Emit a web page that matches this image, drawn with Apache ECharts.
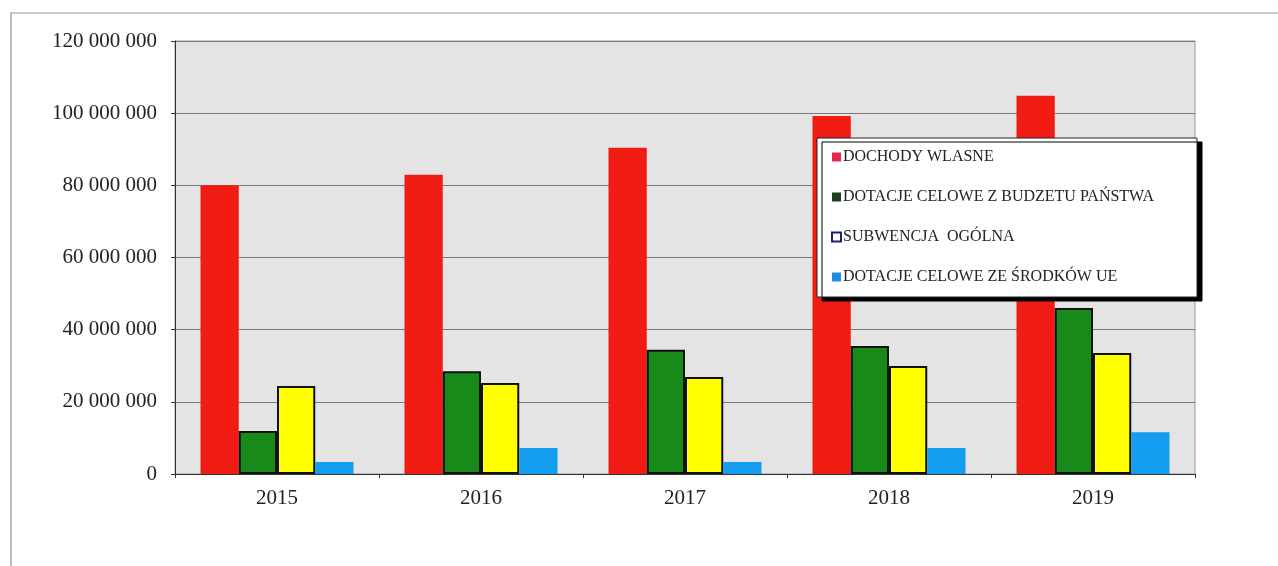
<!DOCTYPE html>
<html>
<head>
<meta charset="utf-8">
<script src="https://cdn.jsdelivr.net/npm/echarts@6/dist/echarts.min.js"></script>
<style>
  html, body { margin: 0; padding: 0; background: #fff; }
  #chart { width: 1278px; height: 566px; }
  .frame { position: absolute; left: 10px; top: 12px; width: 1268px; height: 554px;
           border-left: 2px solid #bbb; border-top: 2px solid #ccc; box-sizing: border-box; pointer-events: none; }
</style>
</head>
<body>
<div id="chart"></div>
<div class="frame"></div>
<script>
// dane
const years = ['2015', '2016', '2017', '2018', '2019']
const seriesNames = [
    'DOCHODY WLASNE',
    'DOTACJE CELOWE Z BUDZETU PAŃSTWA',
    'SUBWENCJA  OGÓLNA',
    'DOTACJE CELOWE ZE ŚRODKÓW UE'
]
const dochodyWlasne = [80000000, 82900000, 90400000, 99200000, 104800000]
const dotacjeBudzet = [11900000, 28500000, 34400000, 35500000, 46000000]
const subwencja = [24400000, 25200000, 26900000, 29900000, 33500000]
const dotacjeUE = [3300000, 7200000, 3300000, 7200000, 11600000]
const yTicks = [0, 20000000, 40000000, 60000000, 80000000, 100000000, 120000000]

const colors = ['#f01b12', '#178a1a', '#ffff00', '#139cf0']
const serif = '"Liberation Serif", "DejaVu Serif", serif'

function fmt(v) {
    return String(v).replace(/\B(?=(\d{3})+(?!\d))/g, ' ')
}

const chart = echarts.init(document.getElementById('chart'))

const option = {
    animation: false,
    grid: {
        left: 175, right: 83, top: 41, bottom: 92,
        show: true,
        backgroundColor: '#e4e4e4',
        borderColor: '#9a9a9a',
        borderWidth: 1
    },
    legend: {
        orient: 'vertical',
        left: 817,
        top: 138,
        padding: [11, 43, 12, 14],
        itemGap: 24,
        itemWidth: 9,
        itemHeight: 9,
        backgroundColor: '#fff',
        borderColor: '#222',
        borderWidth: 1,
        shadowColor: '#000',
        shadowBlur: 0,
        shadowOffsetX: 5,
        shadowOffsetY: 4,
        textStyle: { fontFamily: serif, fontSize: 16, color: '#222', padding: [0, 0, 0, -3] },
        data: [
            { name: seriesNames[0], icon: 'rect', itemStyle: { color: '#e8254a', borderWidth: 0 } },
            { name: seriesNames[1], icon: 'rect', itemStyle: { color: '#1d3f1f', borderWidth: 0 } },
            { name: seriesNames[2], icon: 'rect', itemStyle: { color: '#fff', borderColor: '#1a1f7a', borderWidth: 2 } },
            { name: seriesNames[3], icon: 'rect', itemStyle: { color: '#1e8fe0', borderWidth: 0 } }
        ]
    },
    xAxis: {
        type: 'category',
        data: years,
        axisLine: { lineStyle: { color: '#333', width: 1 } },
        axisTick: { show: true, length: 4, lineStyle: { color: '#333' } },
        axisLabel: { fontFamily: serif, fontSize: 21, color: '#222', margin: 14 },
        splitLine: { show: false }
    },
    yAxis: {
        type: 'value',
        min: 0,
        max: 120000000,
        interval: 20000000,
        axisLine: { show: true, lineStyle: { color: '#333', width: 1 } },
        axisTick: { show: true, length: 4, lineStyle: { color: '#333' } },
        axisLabel: {
            fontFamily: serif, fontSize: 21, color: '#222', margin: 18,
            formatter: function (v) { return yTicks.indexOf(v) >= 0 ? fmt(v) : '' }
        },
        splitLine: { show: true, lineStyle: { color: '#7a7a7a', width: 1 } }
    },
    series: [
        {
            name: seriesNames[0], type: 'bar', data: dochodyWlasne,
            barGap: '0%', barCategoryGap: '25%',
            itemStyle: { color: colors[0] }
        },
        {
            name: seriesNames[1], type: 'bar', data: dotacjeBudzet,
            itemStyle: { color: colors[1], borderColor: '#111', borderWidth: 2 }
        },
        {
            name: seriesNames[2], type: 'bar', data: subwencja,
            itemStyle: { color: colors[2], borderColor: '#111', borderWidth: 2 }
        },
        {
            name: seriesNames[3], type: 'bar', data: dotacjeUE,
            itemStyle: { color: colors[3] }
        }
    ]
}

chart.setOption(option)
</script>
</body>
</html>
